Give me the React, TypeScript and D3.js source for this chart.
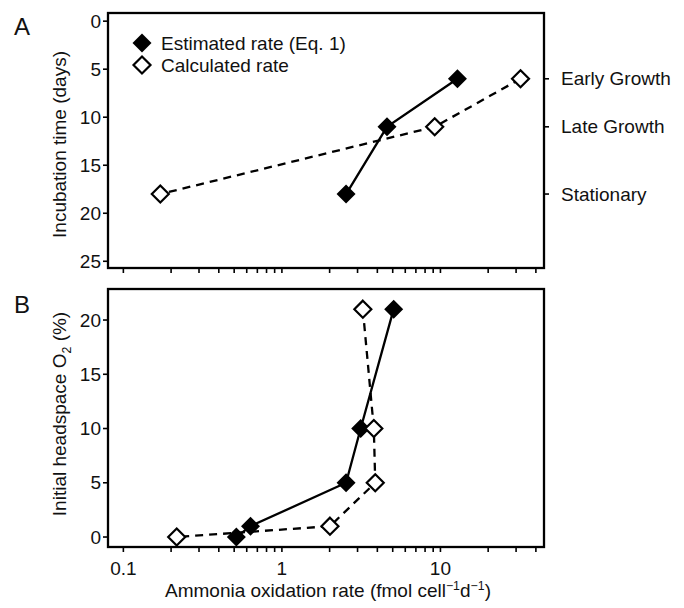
import React from "react";
import * as d3 from "d3";

const incubationDays = [6, 11, 18];
const phaseLabels = ["Early Growth", "Late Growth", "Stationary"];
const estimatedA = [12.8, 4.6, 2.54];
const calculatedA = [32, 9.2, 0.171];

const headspaceO2 = [21, 10, 5, 1, 0];
const estimatedB = [5.07, 3.14, 2.54, 0.634, 0.516];
const calculatedB = [3.24, 3.8, 3.88, 2.01, 0.217];

const yTicksA = [0, 5, 10, 15, 20, 25];
const yTicksB = [0, 5, 10, 15, 20];
const xMajorTicks = [0.1, 1, 10];
const xTickLabels = ["0.1", "1", "10"];
const xAllTicks = [
  0.1, 0.2, 0.3, 0.4, 0.5, 0.6, 0.7, 0.8, 0.9,
  1, 2, 3, 4, 5, 6, 7, 8, 9,
  10, 20, 30, 40,
];

const legendLabels = ["Estimated rate (Eq. 1)", "Calculated rate"];

const FONT = "'Liberation Sans', Arial, Helvetica, sans-serif";
const FS = 19;

const L = 108, R = 544;
const topA = 13, botA = 268;
const topB = 289, botB = 547;

const diamond = (cx: number, cy: number, r: number) =>
  `M${cx},${cy - r}L${cx + r},${cy}L${cx},${cy + r}L${cx - r},${cy}Z`;

export default function App() {
  const x = d3.scaleLog().domain([0.08, 45]).range([L, R]);
  const yA = d3.scaleLinear().domain([-0.85, 25.7]).range([topA, botA]);
  const yB = d3.scaleLinear().domain([-0.92, 22.86]).range([botB, topB]);

  const lineA = d3.line<[number, number]>().x((d) => x(d[0])).y((d) => yA(d[1]));
  const lineB = d3.line<[number, number]>().x((d) => x(d[0])).y((d) => yB(d[1]));

  const estA: [number, number][] = estimatedA.map((v, i) => [v, incubationDays[i]]);
  const calA: [number, number][] = calculatedA.map((v, i) => [v, incubationDays[i]]);
  const estB: [number, number][] = estimatedB.map((v, i) => [v, headspaceO2[i]]);
  const calB: [number, number][] = calculatedB.map((v, i) => [v, headspaceO2[i]]);

  const TL = 5;
  const SW = 2.3;

  const xTicks = (yBase: number) =>
    xAllTicks.map((t, i) => (
      <line key={i} x1={x(t)} x2={x(t)} y1={yBase} y2={yBase + TL} stroke="#000" strokeWidth={1.6} />
    ));

  return (
    <svg width={684} height={608} style={{ display: "block", position: "absolute", left: 0, top: 0 }} fontFamily={FONT}>
      <rect width={684} height={608} fill="#fff" />
      {/* Panel labels */}
      <text x={14} y={35} fontSize={24} fill="#111">A</text>
      <text x={14} y={313} fontSize={24} fill="#111">B</text>

      {/* Panel A */}
      <g>
        {yTicksA.map((t) => (
          <g key={t}>
            <line x1={L - TL} x2={L} y1={yA(t)} y2={yA(t)} stroke="#000" strokeWidth={1.6} />
            <text x={L - 7} y={yA(t)} dy="0.35em" textAnchor="end" fontSize={FS} fill="#111">{t}</text>
          </g>
        ))}
        {incubationDays.map((t, i) => (
          <g key={t}>
            <line x1={R} x2={R + TL} y1={yA(t)} y2={yA(t)} stroke="#000" strokeWidth={1.6} />
            <text x={R + 17} y={yA(t)} dy="0.35em" fontSize={FS} fill="#111">{phaseLabels[i]}</text>
          </g>
        ))}
        {xTicks(botA)}
        <text transform={`translate(66,${(topA + botA) / 2 + 4}) rotate(-90)`} textAnchor="middle" fontSize={FS} fill="#111">
          Incubation time (days)
        </text>
        <path d={lineA(estA) || ""} fill="none" stroke="#000" strokeWidth={SW} />
        {estA.map((d, i) => (
          <path key={i} d={diamond(x(d[0]), yA(d[1]), 9.5)} fill="#000" />
        ))}
        <path d={lineA(calA) || ""} fill="none" stroke="#000" strokeWidth={SW} strokeDasharray="8,6" />
        {calA.map((d, i) => (
          <path key={i} d={diamond(x(d[0]), yA(d[1]), 8.5)} fill="#fff" stroke="#000" strokeWidth={2.2} />
        ))}
        {/* Legend */}
        <path d={diamond(142, 43, 9.5)} fill="#000" />
        <text x={161} y={43} dy="0.35em" fontSize={FS} fill="#111">{legendLabels[0]}</text>
        <path d={diamond(142, 65, 8.5)} fill="#fff" stroke="#000" strokeWidth={2.2} />
        <text x={161} y={65} dy="0.35em" fontSize={FS} fill="#111">{legendLabels[1]}</text>
        <rect x={L} y={topA} width={R - L} height={botA - topA} fill="none" stroke="#000" strokeWidth={2.3} />
      </g>

      {/* Panel B */}
      <g>
        {yTicksB.map((t) => (
          <g key={t}>
            <line x1={L - TL} x2={L} y1={yB(t)} y2={yB(t)} stroke="#000" strokeWidth={1.6} />
            <text x={L - 7} y={yB(t)} dy="0.35em" textAnchor="end" fontSize={FS} fill="#111">{t}</text>
          </g>
        ))}
        {xTicks(botB)}
        {xMajorTicks.map((t, i) => (
          <text key={t} x={x(t)} y={575} textAnchor="middle" fontSize={FS} fill="#111">{xTickLabels[i]}</text>
        ))}
        <text transform={`translate(66,${(topB + botB) / 2 - 4}) rotate(-90)`} textAnchor="middle" fontSize={FS} fill="#111">
          Initial headspace O<tspan fontSize={FS * 0.65} dy="5">2</tspan><tspan dy="-5"> (%)</tspan>
        </text>
        <text x={(L + R) / 2 + 2} y={597} textAnchor="middle" fontSize={FS} fill="#111">
          Ammonia oxidation rate (fmol cell<tspan fontSize={FS * 0.65} dy="-7">−1</tspan><tspan dy="7">d</tspan><tspan fontSize={FS * 0.65} dy="-7">−1</tspan><tspan dy="7">)</tspan>
        </text>
        <path d={lineB(estB) || ""} fill="none" stroke="#000" strokeWidth={SW} />
        {estB.map((d, i) => (
          <path key={i} d={diamond(x(d[0]), yB(d[1]), 9.5)} fill="#000" />
        ))}
        <path d={lineB(calB) || ""} fill="none" stroke="#000" strokeWidth={SW} strokeDasharray="8,6" />
        {calB.map((d, i) => (
          <path key={i} d={diamond(x(d[0]), yB(d[1]), 8.5)} fill="#fff" stroke="#000" strokeWidth={2.2} />
        ))}
        <rect x={L} y={topB} width={R - L} height={botB - topB} fill="none" stroke="#000" strokeWidth={2.3} />
      </g>
    </svg>
  );
}
